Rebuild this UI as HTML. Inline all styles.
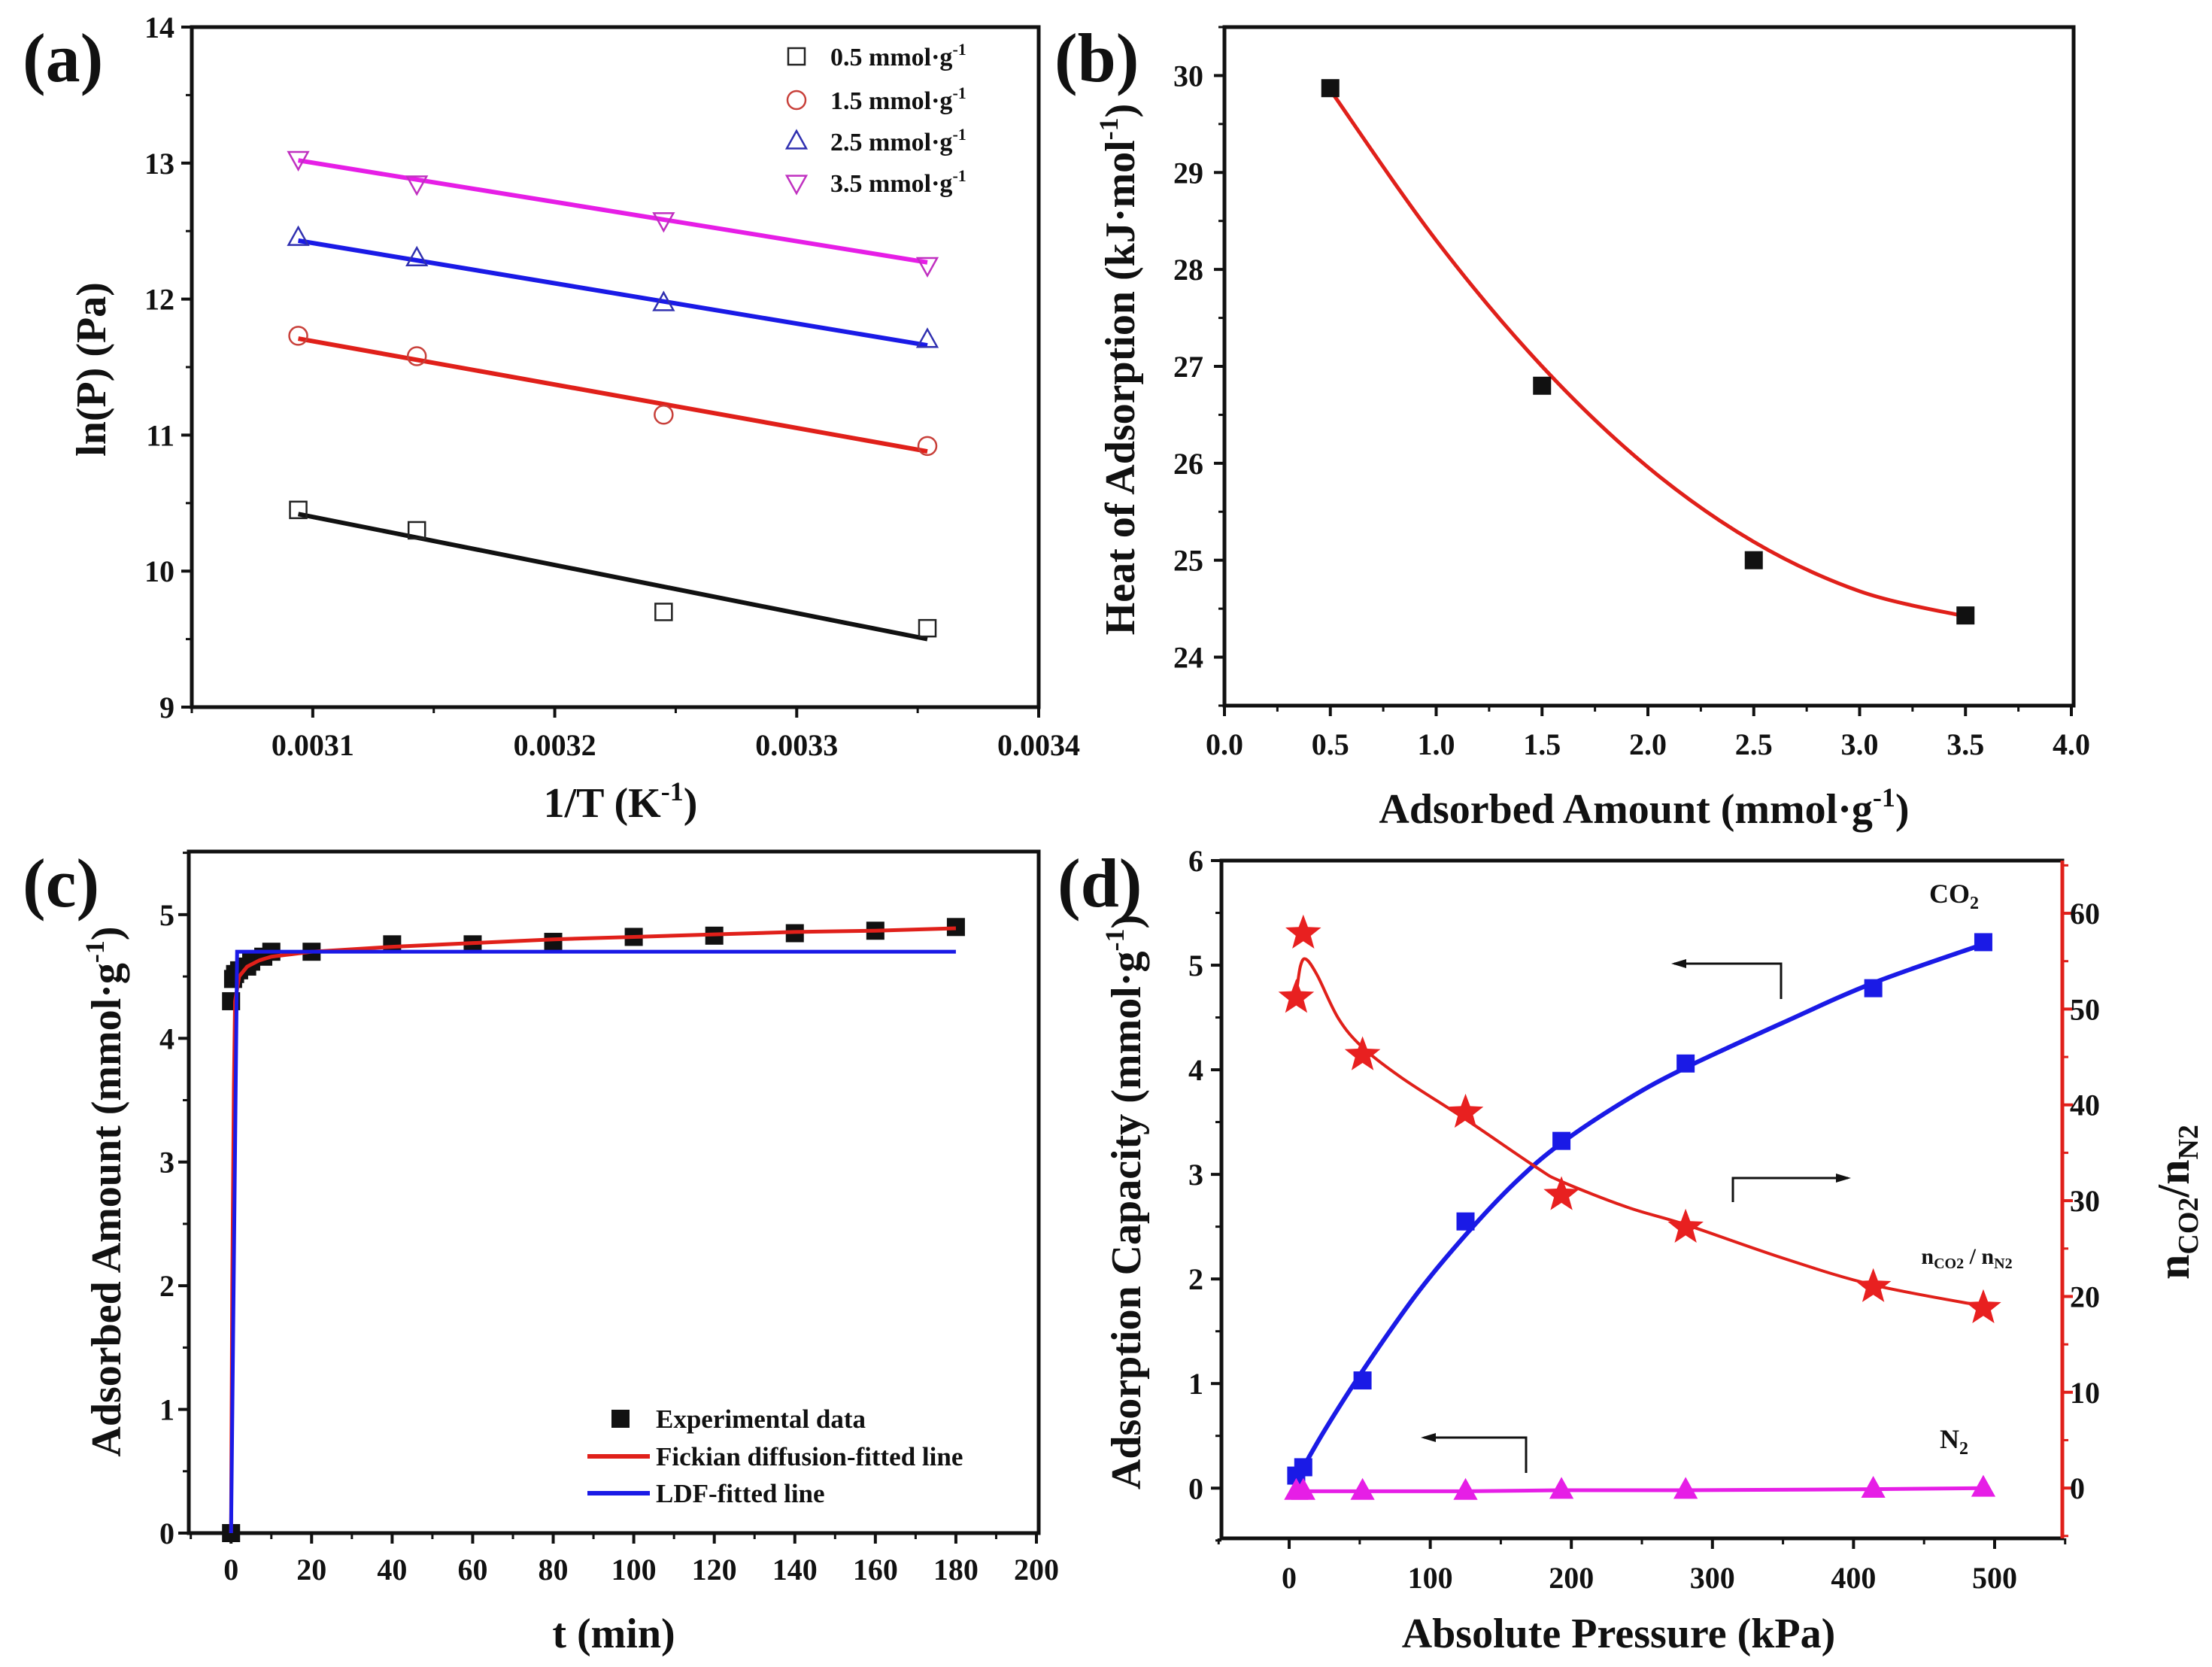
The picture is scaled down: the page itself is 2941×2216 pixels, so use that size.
<!DOCTYPE html>
<html><head><meta charset="utf-8"><style>
html,body{margin:0;padding:0;background:#fff;}
svg{display:block;font-family:"Liberation Serif",serif;font-weight:bold;}
</style></head><body>
<svg id="fig" xmlns="http://www.w3.org/2000/svg" width="2941" height="2216" viewBox="0 0 2941 2216">
<rect x="0" y="0" width="2941" height="2216" fill="#fff"/>
<g id="root"></g>
</svg>
<script>
// ---- Panel (a) data ----
const aX = [0.003094, 0.003143, 0.003245, 0.003354];
const aBlack = [10.45, 10.30, 9.70, 9.58];
const aRed = [11.73, 11.58, 11.15, 10.92];
const aBlue = [12.45, 12.30, 11.97, 11.70];
const aMag = [13.03, 12.85, 12.58, 12.25];
const aFitBlack = [10.42, 9.50];
const aFitRed = [11.71, 10.88];
const aFitBlue = [12.43, 11.66];
const aFitMag = [13.02, 12.27];
const aXTicks = [0.0031, 0.0032, 0.0033, 0.0034];
const aYTicks = [9, 10, 11, 12, 13, 14];
// ---- Panel (b) data ----
const bX = [0.5, 1.5, 2.5, 3.5];
const bY = [29.87, 26.80, 25.00, 24.43];
const bFitX = [0.5, 1.0, 1.5, 2.0, 2.5, 3.0, 3.5];
const bFitY = [29.85, 28.30, 27.00, 25.96, 25.19, 24.68, 24.42];
const bXTicks = [0.0, 0.5, 1.0, 1.5, 2.0, 2.5, 3.0, 3.5, 4.0];
const bYTicks = [24, 25, 26, 27, 28, 29, 30];
// ---- Panel (c) data ----
const cT = [0, 0, 0.5, 1, 2, 4, 5, 8, 10, 20, 40, 60, 80, 100, 120, 140, 160, 180];
const cQ = [0, 4.30, 4.48, 4.52, 4.55, 4.58, 4.62, 4.66, 4.70, 4.70, 4.76, 4.76, 4.78, 4.82, 4.83, 4.85, 4.87, 4.90];
const cFickT = [0, 0.3, 0.7, 1, 2, 4, 7, 10, 15, 20, 40, 60, 80, 100, 120, 140, 160, 180];
const cFickQ = [0, 2.0, 3.6, 4.3, 4.50, 4.58, 4.63, 4.66, 4.68, 4.70, 4.74, 4.77, 4.80, 4.82, 4.84, 4.86, 4.87, 4.89];
const cLdfT = [0, 1.5, 180];
const cLdfQ = [0, 4.70, 4.70];
const cXTicks = [0, 20, 40, 60, 80, 100, 120, 140, 160, 180, 200];
const cYTicks = [0, 1, 2, 3, 4, 5];
// ---- Panel (d) data ----
const dP = [5, 10, 52, 125, 193, 281, 414, 492];
const dCO2 = [0.12, 0.20, 1.03, 2.55, 3.32, 4.06, 4.78, 5.22];
const dN2 = [-0.03, -0.03, -0.03, -0.03, -0.02, -0.02, -0.01, 0.0];
const dRatio = [51.2, 57.9, 45.2, 39.2, 30.6, 27.2, 21.0, 18.8];
const dCO2FitP = [5, 25, 52, 90, 125, 160, 193, 240, 281, 350, 414, 492];
const dCO2FitQ = [0.08, 0.55, 1.12, 1.85, 2.42, 2.92, 3.30, 3.72, 4.02, 4.45, 4.83, 5.20];
const dRatioFitP = [5, 8, 12, 20, 35, 52, 80, 125, 175, 193, 240, 281, 350, 414, 492];
const dRatioFitR = [51.5, 54.5, 55.2, 53.5, 49.0, 46.0, 42.8, 38.5, 33.5, 32.0, 29.3, 27.5, 24.0, 21.2, 19.0];
const dXTicks = [0, 100, 200, 300, 400, 500];
const dYTicks = [0, 1, 2, 3, 4, 5, 6];
const dRTicks = [0, 10, 20, 30, 40, 50, 60];

const NS = "http://www.w3.org/2000/svg";
const root = document.getElementById('root');
function el(tag, attrs, parent) {
  const e = document.createElementNS(NS, tag);
  for (const k in attrs) e.setAttribute(k, attrs[k]);
  (parent || root).appendChild(e);
  return e;
}
function lin(d0, d1, r0, r1) { return v => r0 + (v - d0) / (d1 - d0) * (r1 - r0); }
function smooth(pts) {
  let d = "M" + pts[0][0] + "," + pts[0][1];
  for (let i = 0; i < pts.length - 1; i++) {
    const p0 = pts[Math.max(0, i - 1)], p1 = pts[i], p2 = pts[i + 1], p3 = pts[Math.min(pts.length - 1, i + 2)];
    const c1 = [p1[0] + (p2[0] - p0[0]) / 6, p1[1] + (p2[1] - p0[1]) / 6];
    const c2 = [p2[0] - (p3[0] - p1[0]) / 6, p2[1] - (p3[1] - p1[1]) / 6];
    d += " C" + c1[0] + "," + c1[1] + " " + c2[0] + "," + c2[1] + " " + p2[0] + "," + p2[1];
  }
  return d;
}
function text(str, x, y, size, anchor, parent, fill) {
  const t = el('text', {x: x, y: y, 'font-size': size, 'text-anchor': anchor || 'middle', fill: fill || '#111'}, parent);
  t.textContent = str;
  return t;
}
function frame(g, L, T, R, B, lw) {
  el('rect', {x: L, y: T, width: R - L, height: B - T, fill: 'none', stroke: '#111', 'stroke-width': lw || 5}, g);
}
function xTicks(g, sx, B, majors, minors, fmt, labY, fs) {
  majors.forEach(v => {
    el('line', {x1: sx(v), y1: B, x2: sx(v), y2: B + 14, stroke: '#111', 'stroke-width': 4}, g);
    const t = text(fmt(v), sx(v), labY, fs, 'middle', g);
    
    
  });
  minors.forEach(v => el('line', {x1: sx(v), y1: B, x2: sx(v), y2: B + 8, stroke: '#111', 'stroke-width': 3}, g));
}
function yTicks(g, sy, L, majors, minors, fmt, labX, fs, right, color) {
  const dir = right ? 1 : -1;
  const c = color || '#111';
  majors.forEach(v => {
    el('line', {x1: L, y1: sy(v), x2: L + dir * 14, y2: sy(v), stroke: c, 'stroke-width': 4}, g);
    const t = text(fmt(v), labX, sy(v) + fs * 0.35, fs, right ? 'start' : 'end', g);
    
    
  });
  minors.forEach(v => el('line', {x1: L, y1: sy(v), x2: L + dir * 8, y2: sy(v), stroke: c, 'stroke-width': 3}, g));
}
function range(a, b, s) { const r = []; for (let v = a; v <= b + 1e-9; v += s) r.push(+v.toFixed(6)); return r; }
function square(g, x, y, s, fill, stroke) {
  return el('rect', {x: x - s / 2, y: y - s / 2, width: s, height: s, fill: fill, stroke: stroke, 'stroke-width': fill === 'none' ? 2.5 : 0}, g);
}
function tri(g, x, y, s, up, fill, stroke) {
  const h = s * 0.9, k = up ? 1 : -1;
  const pts = [[x, y - k * h * 0.6], [x - s / 2, y + k * h * 0.4], [x + s / 2, y + k * h * 0.4]];
  return el('polygon', {points: pts.map(p => p.join(',')).join(' '), fill: fill, stroke: stroke, 'stroke-width': 2.5}, g);
}
function star(g, x, y, r, fill) {
  const pts = [];
  for (let i = 0; i < 10; i++) {
    const a = -Math.PI / 2 + i * Math.PI / 5, rr = i % 2 ? r * 0.42 : r;
    pts.push([x + rr * Math.cos(a), y + rr * Math.sin(a)]);
  }
  return el('polygon', {points: pts.map(p => p.join(',')).join(' '), fill: fill}, g);
}
function letter(str, x, y) {
  const t = text(str, x, y, 92, 'start');
  
  
}

// ===== Panel (a) =====
(function () {
  const g = el('g', {});
  
  
  const L = 255, R = 1381, T = 36, B = 940;
  const sx = lin(0.00305, 0.0034, L, R), sy = lin(9, 14, B, T);
  frame(g, L, T, R, B);
  xTicks(g, sx, B, aXTicks, [0.00305, 0.00315, 0.00325, 0.00335], v => v.toFixed(4), 1004, 40);
  yTicks(g, sy, L, aYTicks, range(9.5, 13.5, 1), v => String(v), 232, 40);
  const series = [[aBlack, aFitBlack, '#111', 'sq'], [aRed, aFitRed, '#e0201a', 'ci'], [aBlue, aFitBlue, '#1a1ae6', 'up'], [aMag, aFitMag, '#e61ee6', 'dn']];
  const mcol = {sq: '#222', ci: '#c8403a', up: '#3030b0', dn: '#c030c0'};
  const names = ['black', 'red', 'blue', 'magenta'];
  series.forEach((s, i) => {
    const ln = el('line', {x1: sx(aX[0]), y1: sy(s[1][0]), x2: sx(aX[3]), y2: sy(s[1][1]), stroke: s[2], 'stroke-width': 6}, g);
    
    
    aX.forEach((xv, j) => {
      const x = sx(xv), y = sy(s[0][j]);
      let m;
      if (s[3] === 'sq') m = square(g, x, y, 22, 'none', mcol.sq);
      else if (s[3] === 'ci') m = el('circle', {cx: x, cy: y, r: 12, fill: 'none', stroke: mcol.ci, 'stroke-width': 2.5}, g);
      else m = tri(g, x, y, 26, s[3] === 'up', 'none', mcol[s[3]]);
      
      
    });
  });
  const legY = [75, 133, 188, 243];
  const legT = ['0.5', '1.5', '2.5', '3.5'];
  legY.forEach((y, i) => {
    let m;
    if (i === 0) m = square(g, 1059, y, 22, 'none', mcol.sq);
    else if (i === 1) m = el('circle', {cx: 1059, cy: y, r: 12, fill: 'none', stroke: mcol.ci, 'stroke-width': 2.5}, g);
    else m = tri(g, 1059, y, 26, i === 2, 'none', i === 2 ? mcol.up : mcol.dn);
    
    
    const t = el('text', {x: 1104, y: y + 12, 'font-size': 34, fill: '#111'}, g);
    
    
    t.innerHTML = legT[i] + ' mmol·g<tspan dy="-14" font-size="22">-1</tspan>';
  });
  const xt = el('text', {x: 825, y: 1086, 'font-size': 56, 'text-anchor': 'middle', fill: '#111'}, g);
  
  
  xt.innerHTML = '1/T (K<tspan dy="-22" font-size="36">-1</tspan><tspan dy="22">)</tspan>';
  const yt = el('text', {x: 0, y: 0, 'font-size': 56, 'text-anchor': 'middle', fill: '#111', transform: 'translate(140,491) rotate(-90)'}, g);
  
  
  yt.textContent = 'ln(P) (Pa)';
  letter('(a)', 30, 108);
})();

// ===== Panel (b) =====
(function () {
  const g = el('g', {});
  
  
  const L = 1628, R = 2757, T = 36, B = 938;
  const sx = lin(0, 4, L, R - 3), sy = lin(23.5, 30.5, B, T);
  frame(g, L, T, R, B);
  xTicks(g, sx, B, bXTicks, range(0.25, 3.75, 0.5), v => v.toFixed(1), 1003, 40);
  yTicks(g, sy, L, bYTicks, range(23.5, 30.5, 0.5).filter(v => v % 1 !== 0), v => String(v), 1600, 40);
  const path = el('path', {d: smooth(bFitX.map((x, i) => [sx(x), sy(bFitY[i])])), fill: 'none', stroke: '#e0201a', 'stroke-width': 5}, g);
  
  
  bX.forEach((x, i) => {
    const m = square(g, sx(x), sy(bY[i]), 24, '#111', 'none');
    
    
  });
  const xt = el('text', {x: 2186, y: 1094, 'font-size': 56, 'text-anchor': 'middle', fill: '#111'}, g);
  
  
  xt.innerHTML = 'Adsorbed Amount (mmol·g<tspan dy="-22" font-size="36">-1</tspan><tspan dy="22">)</tspan>';
  const yt = el('text', {x: 0, y: 0, 'font-size': 56, 'text-anchor': 'middle', fill: '#111', transform: 'translate(1508,491) rotate(-90)'}, g);
  
  
  yt.innerHTML = 'Heat of Adsorption (kJ·mol<tspan dy="-22" font-size="36">-1</tspan><tspan dy="22">)</tspan>';
  letter('(b)', 1402, 108);
})();

// ===== Panel (c) =====
(function () {
  const g = el('g', {});
  
  
  const L = 251, R = 1381, T = 1132, B = 2038;
  const sx = lin(-10.5, 200, L, R - 3), sy = lin(0, 5.51, B, T);
  frame(g, L, T, R, B);
  xTicks(g, sx, B, cXTicks, range(-10, 190, 20), v => String(v), 2100, 40);
  yTicks(g, sy, L, cYTicks, range(0.5, 5.5, 1), v => String(v), 232, 40);
  cT.forEach((t, i) => {
    const m = square(g, sx(t), sy(cQ[i]), 24, '#111', 'none');
    
    
  });
  const fk = el('polyline', {points: cFickT.map((t, i) => sx(t) + ',' + sy(cFickQ[i])).join(' '), fill: 'none', stroke: '#e0201a', 'stroke-width': 5, 'stroke-linejoin': 'round'}, g);
  
  
  const ld = el('polyline', {points: cLdfT.map((t, i) => sx(t) + ',' + sy(cLdfQ[i])).join(' '), fill: 'none', stroke: '#1a1ae6', 'stroke-width': 5}, g);
  
  
  const lm = square(g, 825, 1886, 24, '#111', 'none');
  
  
  const l1 = el('line', {x1: 781, y1: 1936, x2: 864, y2: 1936, stroke: '#e0201a', 'stroke-width': 6}, g);
  
  
  const l2 = el('line', {x1: 781, y1: 1985, x2: 864, y2: 1985, stroke: '#1a1ae6', 'stroke-width': 6}, g);
  
  
  [['Experimental data', 1898], ['Fickian diffusion-fitted line', 1948], ['LDF-fitted line', 1997]].forEach(a => {
    const t = text(a[0], 872, a[1], 35, 'start', g);
    
    
  });
  const xt = text('t (min)', 816, 2190, 56, 'middle', g);
  
  
  const yt = el('text', {x: 0, y: 0, 'font-size': 56, 'text-anchor': 'middle', fill: '#111', transform: 'translate(160,1584) rotate(-90)'}, g);
  
  
  yt.innerHTML = 'Adsorbed Amount (mmol·g<tspan dy="-22" font-size="36">-1</tspan><tspan dy="22">)</tspan>';
  letter('(c)', 30, 1205);
})();

// ===== Panel (d) =====
(function () {
  const g = el('g', {});
  
  
  const L = 1624, R = 2742, T = 1144, B = 2045;
  const sx = lin(-48, 548, L, R), sy = lin(-0.48, 6, B, T), sr = lin(-5.25, 65.5, B, T);
  frame(g, L, T, R, B);
  el('line', {x1: R, y1: T, x2: R, y2: B, stroke: '#e0201a', 'stroke-width': 5}, g);
  xTicks(g, sx, B, dXTicks, range(-50, 550, 100), v => String(v), 2111, 40);
  yTicks(g, sy, L, dYTicks, range(-0.5, 5.5, 1), v => String(v), 1600, 40);
  yTicks(g, sr, R, dRTicks, range(-5, 65, 10), v => String(v), 2752, 40, true, '#e0201a');
  const cf = el('path', {d: smooth(dCO2FitP.map((p, i) => [sx(p), sy(dCO2FitQ[i])])), fill: 'none', stroke: '#1a1ae6', 'stroke-width': 6}, g);
  
  
  const rf = el('path', {d: smooth(dRatioFitP.map((p, i) => [sx(p), sr(dRatioFitR[i])])), fill: 'none', stroke: '#e0201a', 'stroke-width': 4}, g);
  
  
  const nl = el('polyline', {points: dP.map((p, i) => sx(p) + ',' + sy(dN2[i])).join(' '), fill: 'none', stroke: '#e61ee6', 'stroke-width': 5}, g);
  
  
  dP.forEach((p, i) => {
    const a = square(g, sx(p), sy(dCO2[i]), 24, '#1a1ae6', 'none');
    
    
    const b = tri(g, sx(p), sy(dN2[i]), 28, true, '#e61ee6', '#e61ee6');
    
    
    const c = star(g, sx(p), sr(dRatio[i]), 25, '#e82020');
    
    
  });
  function arrow(pts, name) {
    const pl = el('polyline', {points: pts.map(p => p.join(',')).join(' '), fill: 'none', stroke: '#111', 'stroke-width': 3}, g);
    
    
    const e = pts[pts.length - 1], s = pts[pts.length - 2], dir = Math.sign(e[0] - s[0]);
    el('polygon', {points: [[e[0] + dir * 4, e[1]], [e[0] - dir * 16, e[1] - 6], [e[0] - dir * 16, e[1] + 6]].map(p => p.join(',')).join(' '), fill: '#111'}, g);
  }
  arrow([[2368, 1328], [2368, 1281], [2226, 1281]], 'arrow-co2-left-axis');
  arrow([[2304, 1598], [2304, 1566], [2457, 1566]], 'arrow-ratio-right-axis');
  arrow([[2029, 1958], [2029, 1911], [1893, 1911]], 'arrow-n2-left-axis');
  const co2 = el('text', {x: 2598, y: 1200, 'font-size': 36, 'text-anchor': 'middle', fill: '#111'}, g);
  
  
  co2.innerHTML = 'CO<tspan dy="8" font-size="24">2</tspan>';
  const n2 = el('text', {x: 2598, y: 1925, 'font-size': 36, 'text-anchor': 'middle', fill: '#111'}, g);
  
  
  n2.innerHTML = 'N<tspan dy="8" font-size="24">2</tspan>';
  const rl = el('text', {x: 2615, y: 1680, 'font-size': 30, 'text-anchor': 'middle', fill: '#111'}, g);
  
  
  rl.innerHTML = 'n<tspan dy="6" font-size="20">CO2</tspan><tspan dy="-6"> / n</tspan><tspan dy="6" font-size="20">N2</tspan>';
  const xt = text('Absolute Pressure (kPa)', 2152, 2190, 56, 'middle', g);
  
  
  const yt = el('text', {x: 0, y: 0, 'font-size': 56, 'text-anchor': 'middle', fill: '#111', transform: 'translate(1516,1598) rotate(-90)'}, g);
  
  
  yt.innerHTML = 'Adsorption Capacity (mmol·g<tspan dy="-22" font-size="36">-1</tspan><tspan dy="22">)</tspan>';
  const rt = el('text', {x: 0, y: 0, 'font-size': 60, 'text-anchor': 'middle', fill: '#111', transform: 'translate(2910,1598) rotate(-90)'}, g);
  
  
  rt.innerHTML = 'n<tspan dy="12" font-size="38">CO2</tspan><tspan dy="-12">/n</tspan><tspan dy="12" font-size="38">N2</tspan>';
  letter('(d)', 1406, 1205);
})();
</script>
</body></html>
